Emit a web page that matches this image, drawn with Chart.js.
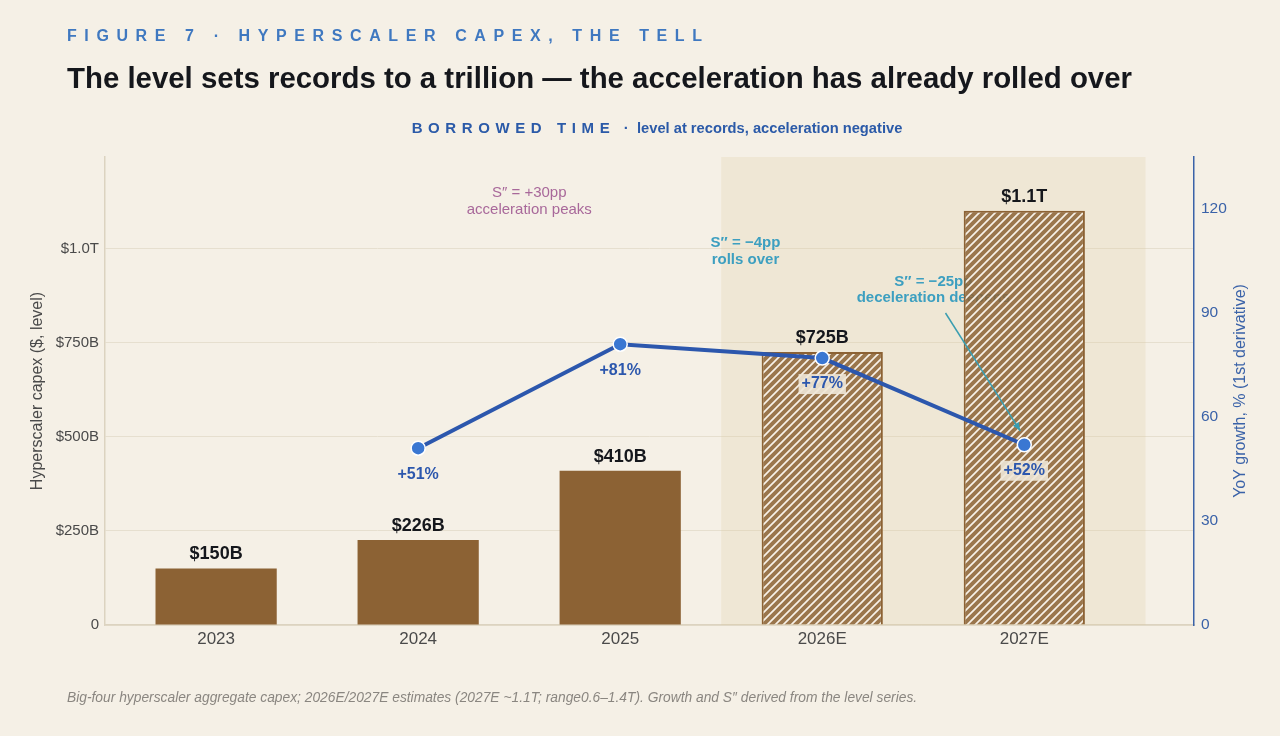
<!DOCTYPE html>
<html>
<head>
<meta charset="utf-8">
<script src="https://cdn.jsdelivr.net/npm/chart.js@4.4.1/dist/chart.umd.min.js"></script>
<style>
  html, body { margin: 0; padding: 0; background: #f5f0e6; }
  body { width: 1280px; height: 736px; position: relative; overflow: hidden; font-family: "Liberation Sans", Arial, sans-serif; }
  #wrap { position: absolute; left: 0; top: 0; width: 1280px; height: 736px; }
  .kicker { position: absolute; left: 67px; top: 27px; font-size: 16px; font-weight: bold; letter-spacing: 7.6px; color: #3f78c0; white-space: nowrap; }
  .title { position: absolute; left: 67px; top: 61px; font-size: 29.4px; font-weight: bold; color: #15171c; white-space: nowrap; }
  .sub { position: absolute; left: 0; width: 1314px; top: 119px; text-align: center; font-size: 15px; font-weight: bold; color: #2b5aa8; white-space: nowrap; }
  .sub .caps { letter-spacing: 5.6px; }
  .sub .rest { font-size: 14.7px; }
  .foot { position: absolute; left: 67px; top: 690px; font-size: 13.8px; font-style: italic; color: #8a8680; white-space: nowrap; }
</style>
</head>
<body>
<div id="wrap"><canvas id="grafica" width="1280" height="736"></canvas></div>
<div class="kicker">FIGURE 7 · HYPERSCALER CAPEX, THE TELL</div>
<div class="title">The level sets records to a trillion — the acceleration has already rolled over</div>
<div class="sub"><span class="caps">BORROWED TIME</span> &nbsp;·&nbsp; <span class="rest">level at records, acceleration negative</span></div>
<div class="foot">Big-four hyperscaler aggregate capex; 2026E/2027E estimates (2027E ~1.1T; range0.6–1.4T). Growth and S″ derived from the level series.</div>

<script>
// datos de la gráfica
const años = ['2023', '2024', '2025', '2026E', '2027E']
const capex = [150, 226, 410, 725, 1100]            // $B
const etiquetasCapex = ['$150B', '$226B', '$410B', '$725B', '$1.1T']
const estimado = [false, false, false, true, true]
const crecimiento = [null, 51, 81, 77, 52]          // YoY %
const etiquetasCrecimiento = [null, '+51%', '+81%', '+77%', '+52%']
const ticksCapex = [0, 250, 500, 750, 1000]
const ticksCrecimiento = [0, 30, 60, 90, 120]

const MARRON = '#8c6234'
const AZUL = '#2c57ad'
const FUENTE = '"Liberation Sans", Arial, sans-serif'

// patrón rayado para los estimados
function crearRayado() {
  const c = document.createElement('canvas')
  c.width = 8; c.height = 8
  const ctx = c.getContext('2d')
  ctx.fillStyle = 'rgba(140,98,52,0.86)'
  ctx.fillRect(0, 0, 8, 8)
  ctx.strokeStyle = 'rgba(255,252,245,0.92)'
  ctx.lineWidth = 1.7
  ctx.beginPath()
  ctx.moveTo(-2, 10); ctx.lineTo(10, -2)
  ctx.moveTo(-6, 6); ctx.lineTo(6, -6)
  ctx.moveTo(2, 14); ctx.lineTo(14, 2)
  ctx.stroke()
  return ctx.createPattern(c, 'repeat')
}
const rayado = crearRayado()

// zona sombreada y anotaciones
const fondoEstimados = {
  id: 'fondoEstimados',
  beforeDatasetsDraw(chart) {
    const { ctx, chartArea, scales } = chart
    const x0 = scales.x.getPixelForValue(2.5)
    const x1 = scales.x.getPixelForValue(4.6)
    ctx.save()
    ctx.fillStyle = 'rgba(222,204,160,0.24)'
    ctx.fillRect(x0, chartArea.top, x1 - x0, chartArea.bottom - chartArea.top)

    ctx.textAlign = 'center'
    ctx.textBaseline = 'middle'
    ctx.font = '15px ' + FUENTE
    ctx.fillStyle = '#a8689a'
    let px = scales.x.getPixelForValue(1.55)
    ctx.fillText('S″ = +30pp', px, scales.y1.getPixelForValue(124.6))
    ctx.fillText('acceleration peaks', px, scales.y1.getPixelForValue(119.7))

    ctx.font = 'bold 15px ' + FUENTE
    ctx.fillStyle = '#3d9fc0'
    px = scales.x.getPixelForValue(2.62)
    ctx.fillText('S″ = −4pp', px, scales.y1.getPixelForValue(110.1))
    ctx.fillText('rolls over', px, scales.y1.getPixelForValue(105.4))

    px = scales.x.getPixelForValue(3.55)
    ctx.fillText('S″ = −25pp', px, scales.y1.getPixelForValue(99.1))
    ctx.fillText('deceleration deepens', px, scales.y1.getPixelForValue(94.4))
    ctx.restore()
  },
  afterDatasetsDraw(chart) {
    const { ctx, scales, chartArea } = chart
    ctx.save()
    // flecha
    const ax = scales.x.getPixelForValue(3.61), ay = scales.y1.getPixelForValue(90)
    const bx = scales.x.getPixelForValue(3.98), by = scales.y1.getPixelForValue(56)
    ctx.strokeStyle = '#3a9db0'
    ctx.fillStyle = '#3a9db0'
    ctx.lineWidth = 1.5
    ctx.beginPath(); ctx.moveTo(ax, ay); ctx.lineTo(bx, by); ctx.stroke()
    const ang = Math.atan2(by - ay, bx - ax)
    ctx.beginPath()
    ctx.moveTo(bx, by)
    ctx.lineTo(bx - 9 * Math.cos(ang - 0.4), by - 9 * Math.sin(ang - 0.4))
    ctx.lineTo(bx - 9 * Math.cos(ang + 0.4), by - 9 * Math.sin(ang + 0.4))
    ctx.closePath(); ctx.fill()

    // etiquetas de las barras
    ctx.textAlign = 'center'
    ctx.textBaseline = 'bottom'
    ctx.font = 'bold 18px ' + FUENTE
    ctx.fillStyle = '#15171c'
    chart.getDatasetMeta(0).data.forEach((barra, i) => {
      ctx.fillText(etiquetasCapex[i], barra.x, barra.y - 5)
    })

    // etiquetas de crecimiento
    ctx.font = 'bold 16px ' + FUENTE
    ctx.textBaseline = 'middle'
    chart.getDatasetMeta(1).data.forEach((punto, i) => {
      const texto = etiquetasCrecimiento[i + 1]
      const y = punto.y + 26
      if (estimado[i + 1]) {
        const w = ctx.measureText(texto).width
        ctx.fillStyle = 'rgba(240,232,216,0.9)'
        ctx.fillRect(punto.x - w / 2 - 3, y - 10, w + 6, 20)
      }
      ctx.fillStyle = AZUL
      ctx.fillText(texto, punto.x, y)
    })

    // título del eje derecho (de abajo hacia arriba)
    ctx.translate(1241, (chartArea.top + chartArea.bottom) / 2)
    ctx.rotate(-Math.PI / 2)
    ctx.font = '16px ' + FUENTE
    ctx.fillStyle = '#3a62a8'
    ctx.fillText('YoY growth, % (1st derivative)', 0, 0)
    ctx.restore()
  }
}

new Chart(document.getElementById('grafica'), {
  type: 'bar',
  data: {
    datasets: [
      {
        type: 'bar',
        data: capex.map((v, i) => ({ x: i, y: v })),
        backgroundColor: estimado.map(e => e ? rayado : MARRON),
        borderColor: MARRON,
        borderWidth: estimado.map(e => e ? 2 : 0),
        categoryPercentage: 1,
        barPercentage: 0.6,
        yAxisID: 'y',
        order: 2
      },
      {
        type: 'line',
        data: crecimiento.map((v, i) => ({ x: i, y: v })).filter(p => p.y !== null),
        borderColor: AZUL,
        borderWidth: 4,
        pointRadius: 7,
        pointBackgroundColor: '#3a77d2',
        pointBorderColor: '#ffffff',
        pointBorderWidth: 1.5,
        yAxisID: 'y1',
        order: 1
      }
    ]
  },
  options: {
    responsive: false,
    animation: false,
    devicePixelRatio: 1,
    layout: { padding: { top: 157, left: 0, right: 0, bottom: 0 } },
    plugins: { legend: { display: false }, tooltip: { enabled: false } },
    scales: {
      x: {
        type: 'linear',
        offset: false,
        min: -0.55,
        max: 4.84,
        afterBuildTicks: (eje) => { eje.ticks = años.map((a, i) => ({ value: i })) },
        afterFit: (eje) => { eje.height = 111 },
        ticks: {
          callback: (v) => años[v],
          color: '#4a4a4a',
          font: { family: FUENTE, size: 17 },
          padding: 4,
          maxRotation: 0
        },
        grid: { display: false, drawTicks: false },
        border: { color: '#dcd3c0', width: 1.5 }
      },
      y: {
        position: 'left',
        min: 0,
        max: 1243,
        afterBuildTicks: (eje) => { eje.ticks = ticksCapex.map(v => ({ value: v })) },
        afterFit: (eje) => { eje.width = 105 },
        ticks: {
          callback: (v) => v === 0 ? '0' : (v >= 1000 ? '$' + (v / 1000).toFixed(1) + 'T' : '$' + v + 'B'),
          color: '#4a4a4a',
          font: { family: FUENTE, size: 15 },
          padding: 6
        },
        grid: { color: '#e6dfcf', lineWidth: 1, drawTicks: false },
        border: { color: '#dcd3c0', width: 1.5 },
        title: {
          display: true,
          text: 'Hyperscaler capex ($, level)',
          color: '#4a4a4a',
          font: { family: FUENTE, size: 16 },
          padding: { top: 28, bottom: 0 }
        }
      },
      y1: {
        position: 'right',
        min: 0,
        max: 135,
        afterBuildTicks: (eje) => { eje.ticks = ticksCrecimiento.map(v => ({ value: v })) },
        afterFit: (eje) => { eje.width = 86 },
        ticks: {
          color: '#3a62a8',
          font: { family: FUENTE, size: 15.5 },
          padding: 7
        },
        grid: { display: false, drawTicks: false },
        border: { color: '#3a62a8', width: 1.5 }
      }
    }
  },
  plugins: [fondoEstimados]
})
</script>
</body>
</html>
